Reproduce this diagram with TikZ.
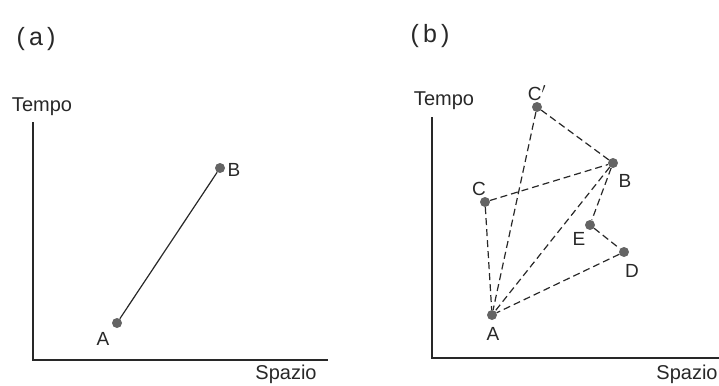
\documentclass[tikz,border=0pt]{standalone}
\usepackage{fontspec}
\setmainfont{Liberation Sans}
\definecolor{dotgray}{RGB}{100, 100, 100}
\definecolor{inkgray}{RGB}{40, 40, 40}
\usepackage{tikz}
\usetikzlibrary{positioning}

\begin{document}
\begin{tikzpicture}[x=1pt, y=-1pt,
  dot/.style={circle, fill=dotgray, inner sep=0pt, minimum size=10pt},
  axis/.style={draw=inkgray, line width=1.3pt},
  path/.style={draw=inkgray, line width=1.2pt},
  dashpath/.style={path, dash pattern=on 7pt off 4pt},
  ptlabel/.style={anchor=base, inner sep=0pt, font=\fontsize{19}{22}\selectfont, text=inkgray},
  axlabel/.style={anchor=base, inner sep=0pt, font=\fontsize{20}{24}\selectfont, text=inkgray},
  panel/.style={anchor=base, inner sep=0pt, font=\fontsize{25}{29}\selectfont, text=inkgray}]
  \useasboundingbox (0,0) rectangle (719,385);

  % panel (a)
  \node[panel] (pa) at (36,46) {(\,a\,)};
  \coordinate (aorig) at (33,360);
  \coordinate (atop) at (33,122);
  \coordinate (aright) at (328,360);
  \draw[axis] (atop) -- (aorig) -- (aright);
  \node[axlabel] (atempo) at (42,111) {Tempo};
  \node[axlabel] (aspazio) at (286,379) {Spazio};
  \node[dot] (aA) at (117,323) {};
  \node[dot] (aB) at (220,168) {};
  \node[ptlabel] at (103,345) {A};
  \node[ptlabel] at (234,176) {B};
  \draw[path] (aA) -- (aB);

  % panel (b)
  \node[panel] (pb) at (430,43) {(\,b\,)};
  \coordinate (borig) at (432,358);
  \coordinate (btop) at (432,117);
  \coordinate (bright) at (719,358);
  \draw[axis] (btop) -- (borig) -- (bright);
  \node[axlabel] (btempo) at (444,106) {Tempo};
  \node[axlabel] (bspazio) at (687,379) {Spazio};
  \node[dot] (bA) at (492,315) {};
  \node[dot] (bB) at (613,163) {};
  \node[dot] (bC) at (485,202) {};
  \node[dot] (bCp) at (537,107) {};
  \node[dot] (bD) at (624,252) {};
  \node[dot] (bE) at (590,225) {};
  \node[ptlabel] at (493,340) {A};
  \node[ptlabel] at (625,187) {B};
  \node[ptlabel] at (479,195) {C};
  \node[ptlabel] at (537,100) {C$'$};
  \node[ptlabel] at (632,277) {D};
  \node[ptlabel] at (579,245) {E};
  \draw[dashpath] (bCp) -- (bB);
  \draw[dashpath] (bCp) -- (bA);
  \draw[dashpath] (bC) -- (bB);
  \draw[dashpath] (bC) -- (bA);
  \draw[dashpath] (bB) -- (bA);
  \draw[dashpath] (bB) -- (bE);
  \draw[dashpath] (bE) -- (bD);
  \draw[dashpath] (bD) -- (bA);
\end{tikzpicture}
\end{document}
